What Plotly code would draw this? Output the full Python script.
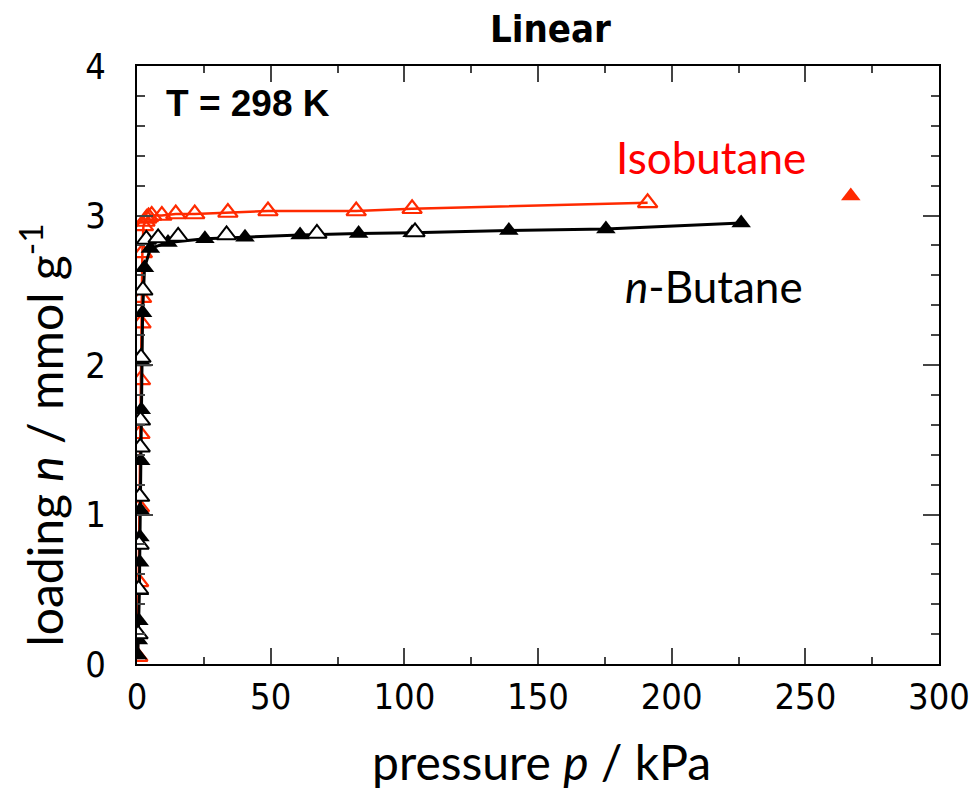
import plotly.graph_objects as go

# ---- data ----
# n-butane, filled symbols (with line)
nbut_fill_p = [0.3, 0.5, 0.7, 0.9, 1.0, 1.1, 1.2, 1.4, 1.6, 1.8, 2.1, 2.8, 5.0, 11.6, 25.4, 40.4, 61.0, 82.9, 102.9, 139.1, 175.4, 226.0]
nbut_fill_n = [0.06, 0.16, 0.29, 0.49, 0.68, 0.85, 1.03, 1.36, 1.70, 2.02, 2.35, 2.65, 2.78, 2.82, 2.845, 2.855, 2.87, 2.88, 2.885, 2.90, 2.91, 2.95]
# n-butane, open symbols
nbut_open_p = [0.4, 0.6, 0.8, 1.0, 1.2, 1.3, 1.5, 2.2, 3.5, 7.9, 15.4, 33.5, 67.3, 104.0]
nbut_open_n = [0.20, 0.50, 0.80, 1.12, 1.45, 1.63, 2.05, 2.50, 2.84, 2.85, 2.86, 2.87, 2.88, 2.89]
# isobutane, open symbols (with line)
isob_open_p = [0.3, 0.6, 0.9, 1.1, 1.3, 1.5, 1.7, 2.0, 2.4, 3.0, 3.6, 4.3, 5.5, 9.3, 14.5, 21.6, 34.0, 49.0, 82.0, 102.9, 191.0]
isob_open_n = [0.05, 0.55, 1.05, 1.54, 1.90, 2.28, 2.45, 2.75, 2.93, 2.96, 2.98, 2.99, 3.00, 3.00, 3.01, 3.01, 3.02, 3.03, 3.03, 3.045, 3.085]
# isobutane, filled symbol
isob_fill_p = [267.0]
isob_fill_n = [3.13]

x_ticks = [0, 50, 100, 150, 200, 250, 300]
y_ticks = [0, 1, 2, 3, 4]

RED = "#ff2a00"
NARROW = "Liberation Sans Narrow, DejaVu Sans Condensed, Liberation Sans"
TICKFONT = dict(family=NARROW, size=36, color="black")
LABELFONT = dict(family="Lato, Carlito, Calibri, sans-serif", size=48, color="black")
MS = 17

fig = go.Figure()

fig.add_trace(go.Scatter(x=isob_open_p, y=isob_open_n, mode="lines+markers",
                         line=dict(color=RED, width=2.5),
                         marker=dict(symbol="triangle-up-open", size=MS, color=RED, line=dict(width=2.2, color=RED)),
                         showlegend=False))
fig.add_trace(go.Scatter(x=isob_fill_p, y=isob_fill_n, mode="markers",
                         marker=dict(symbol="triangle-up", size=MS, color=RED, line=dict(width=0)),
                         showlegend=False))
fig.add_trace(go.Scatter(x=nbut_fill_p, y=nbut_fill_n, mode="lines+markers",
                         line=dict(color="black", width=3),
                         marker=dict(symbol="triangle-up", size=MS, color="black", line=dict(width=0)),
                         showlegend=False))
fig.add_trace(go.Scatter(x=nbut_open_p, y=nbut_open_n, mode="markers",
                         marker=dict(symbol="triangle-up", size=MS, color="white", line=dict(width=2, color="black")),
                         showlegend=False))

# page body has an 8px margin, so the figure is 8px smaller than the window
fig.update_layout(
    width=969, height=787,
    margin=dict(l=129, r=38, t=58, b=131),
    plot_bgcolor="white", paper_bgcolor="white",
    xaxis=dict(range=[0, 300], tickvals=x_ticks, ticks="inside", ticklen=16, tickwidth=2,
               showline=True, linewidth=2, linecolor="black", mirror="ticks", automargin=False,
               showgrid=False, zeroline=False, tickfont=TICKFONT,
               minor=dict(ticks="inside", dtick=25, ticklen=7, tickwidth=2, showgrid=False)),
    xaxis2=dict(range=[0, 300], overlaying="x", side="bottom", tickvals=[0, 300], ticks="outside",
                ticklen=16, tickwidth=2, showticklabels=False, showline=False, showgrid=False,
                zeroline=False, automargin=False),
    yaxis=dict(range=[0, 4], tickvals=y_ticks, ticks="inside", ticklen=16, tickwidth=2,
               showline=True, linewidth=2, linecolor="black", mirror="ticks", automargin=False,
               showgrid=False, zeroline=False, tickfont=TICKFONT, ticklabelstandoff=22,
               minor=dict(ticks="inside", dtick=0.2, ticklen=8, tickwidth=2, showgrid=False)),
    yaxis2=dict(range=[0, 4], overlaying="y", side="left", tickvals=y_ticks, ticks="outside",
                ticklen=15, tickwidth=2, showticklabels=False, showline=False, showgrid=False,
                zeroline=False, automargin=False),
)

# axis titles
fig.add_annotation(text="pressure <i>p</i> / kPa", xref="paper", yref="paper", x=0.504, y=-0.163,
                   xanchor="center", yanchor="middle", showarrow=False, font=LABELFONT)
fig.add_annotation(text="loading <i>n</i> / mmol g<sup>-1</sup>", xref="paper", yref="paper",
                   x=-0.119, y=0.383, xanchor="center", yanchor="middle", textangle=-90,
                   showarrow=False, font=LABELFONT, borderpad=0)

fig.add_annotation(text="<b>Linear</b>", xref="paper", yref="paper", x=0.516, y=1.062,
                   xanchor="center", yanchor="middle", showarrow=False,
                   font=dict(family=NARROW, size=38, color="black"))
fig.add_annotation(text="<b>T = 298 K</b>", x=10, y=3.75, xanchor="left", yanchor="middle", showarrow=False,
                   font=dict(family="Liberation Sans, Arial", size=37, color="black"))
fig.add_annotation(text="Isobutane", x=214.7, y=3.39, xanchor="center", yanchor="middle", showarrow=False,
                   font=dict(family="Lato, Carlito, Calibri, sans-serif", size=44, color="#ff0000"))
fig.add_annotation(text="<i>n</i>-Butane", x=215.9, y=2.53, xanchor="center", yanchor="middle", showarrow=False,
                   font=dict(family="Lato, Carlito, Calibri, sans-serif", size=44, color="black"))

fig.write_html("out.html")
